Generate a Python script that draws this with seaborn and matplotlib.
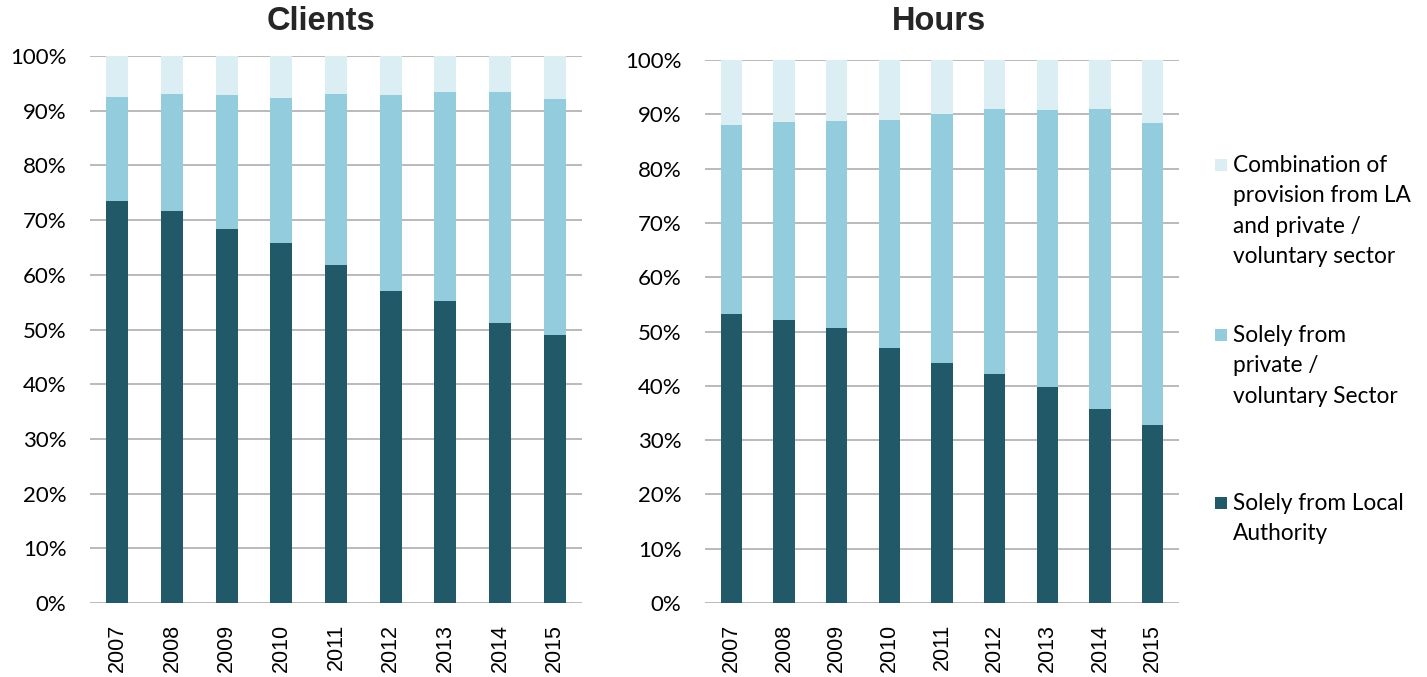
import matplotlib
matplotlib.use("Agg")
import matplotlib.pyplot as plt
from matplotlib.patches import Rectangle
import seaborn as sns
import pandas as pd
import numpy as np

years = ["2007", "2008", "2009", "2010", "2011", "2012", "2013", "2014", "2015"]

clients_la = [73.5, 71.6, 68.4, 65.9, 61.8, 57.0, 55.3, 51.1, 49.0]
clients_private = [19.0, 21.5, 24.5, 26.5, 31.3, 35.9, 38.2, 42.4, 43.2]
clients_combo = [7.5, 6.9, 7.1, 7.6, 6.9, 7.1, 6.5, 6.5, 7.8]

hours_la = [53.2, 52.1, 50.7, 47.0, 44.2, 42.1, 39.8, 35.7, 32.8]
hours_private = [34.8, 36.5, 38.1, 42.0, 45.8, 48.9, 51.0, 55.3, 55.6]
hours_combo = [12.0, 11.4, 11.2, 11.0, 10.0, 9.0, 9.2, 9.0, 11.6]

series_labels = [
    "Combination of\nprovision from LA\nand private /\nvoluntary sector",
    "Solely from\nprivate /\nvoluntary Sector",
    "Solely from Local\nAuthority",
]
titles = ["Clients", "Hours"]

C_DARK = "#215968"
C_MID = "#93CDDD"
C_LIGHT = "#DAEEF3"
GRID = "#B4B4B4"

sns.set_theme(style="white")
plt.rcParams["font.family"] = ["Lato", "DejaVu Sans"]

W, H = 1427, 677
fig = plt.figure(figsize=(W / 100, H / 100), dpi=100)

def fx(px):
    return px / W

def fy(py):
    return 1 - py / H

ax1 = fig.add_axes([fx(90), fy(603), fx(582) - fx(90), fy(56) - fy(603)])
ax2 = fig.add_axes([fx(705), fy(603), fx(1179) - fx(705), fy(60) - fy(603)])

def draw(ax, la, private, combo):
    df = pd.DataFrame({
        "year": years,
        "la": la,
        "private": private,
        "combo": combo,
    })
    df["top_private"] = df["la"] + df["private"]
    df["top_combo"] = df["top_private"] + df["combo"]
    for col, color in [("top_combo", C_LIGHT), ("top_private", C_MID), ("la", C_DARK)]:
        sns.barplot(data=df, x="year", y=col, color=color, width=0.40,
                    saturation=1, ax=ax, linewidth=0, zorder=3)
    ax.set_xlim(-0.5, 8.5)
    ax.set_ylim(0, 100)
    ax.set_yticks(np.arange(0, 101, 10))
    ax.set_yticklabels([f"{v}%" for v in range(0, 101, 10)])
    ax.set_xlabel("")
    ax.set_ylabel("")
    ax.grid(axis="y", color=GRID, linewidth=1.3, zorder=0)
    ax.grid(axis="x", visible=False)
    for s in ax.spines.values():
        s.set_visible(False)
    ax.tick_params(axis="y", length=0, pad=17, labelsize=16, labelcolor="#000000")
    ax.tick_params(axis="x", length=0, pad=15, labelsize=15.5, labelcolor="#000000",
                   rotation=90)
    for t in ax.get_xticklabels():
        t.set_fontfamily(["Liberation Sans", "DejaVu Sans"])

draw(ax1, clients_la, clients_private, clients_combo)
draw(ax2, hours_la, hours_private, hours_combo)

fig.text(fx(321), fy(22), titles[0], ha="center", va="center", fontsize=23.5,
         fontweight="bold", family=["Liberation Sans", "DejaVu Sans"])
fig.text(fx(939), fy(22), titles[1], ha="center", va="center", fontsize=23.5,
         fontweight="bold", family=["Liberation Sans", "DejaVu Sans"])

# legend
leg_colors = [C_LIGHT, C_MID, C_DARK]
leg_first_line_y = [165, 335, 503]
for lab, col, yy in zip(series_labels, leg_colors, leg_first_line_y):
    fig.patches.append(Rectangle((fx(1215), fy(yy + 6)), fx(12), fy(yy - 6) - fy(yy + 6),
                                 transform=fig.transFigure, facecolor=col,
                                 edgecolor="none"))
    fig.text(fx(1233), fy(yy - 10), lab, ha="left", va="top", fontsize=16.3,
             linespacing=1.55, color="#000000")

fig.savefig("out.png", dpi=100)
